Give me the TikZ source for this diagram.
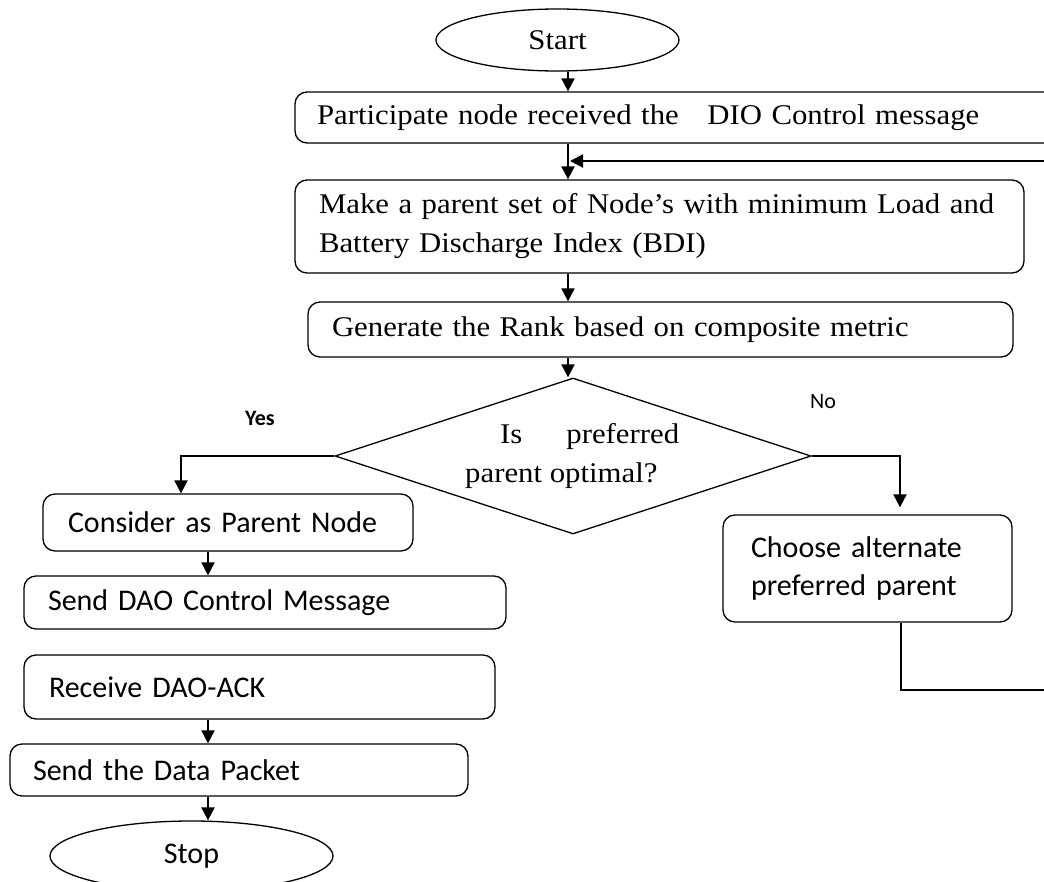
\documentclass[tikz,border=0pt]{standalone}
\usepackage{fontspec}
\setmainfont{Liberation Serif}[FakeStretch=1.08]
\newfontfamily\calfont{Carlito}
\usetikzlibrary{shapes.geometric,arrows.meta}
\newcommand\serifsz{\fontsize{28.5}{39}\selectfont}
\newcommand\calsz{\calfont\fontsize{30}{38}\selectfont}
\newcommand\labsz{\calfont\fontsize{22}{24}\selectfont}
\begin{document}
\begin{tikzpicture}[x=1pt,y=-1pt,
  box/.style={draw, line width=1.3pt, rounded corners=12pt, align=left, inner ysep=0pt},
  sbox/.style={box, font=\serifsz},
  cbox/.style={box, font=\calsz},
  arr/.style={draw, line width=2pt, -{Triangle[length=13pt,width=13pt]}},
  loopline/.style={draw, line width=1.3pt},
  term/.style={ellipse, draw, line width=1.3pt, inner sep=0pt}]
\useasboundingbox (0,0) rectangle (1044,881);
\clip (0,0) rectangle (1044,881);

% terminals
\node[term, font=\serifsz, minimum width=243pt, minimum height=62pt] (start) at (557.5,40) {Start};
\node[term, font=\calsz, minimum width=283pt, minimum height=70pt] (stop) at (191.5,856) {Stop};

% serif boxes
\node[sbox, text width=731pt, inner xsep=22pt, minimum height=51pt] (part) at (682.5,117.5)
  {Participate node received the \ \ DIO Control message};
\node[sbox, text width=681pt, inner xsep=24pt, minimum height=93pt] (make) at (659.5,226.5)
  {Make a parent set of Node’s with minimum Load and\\Battery Discharge Index (BDI)};
\node[sbox, text width=657pt, inner xsep=24pt, minimum height=55pt] (gen) at (660.5,329.5)
  {Generate the Rank based on composite metric};

% decision
\node[diamond, draw, line width=1.3pt, minimum width=476pt, minimum height=156pt, inner sep=0pt] (dec) at (573,456) {};
\node[font=\serifsz, align=left, anchor=west, inner sep=0pt] (dectext) at (465,456)
  {\hspace*{35pt}Is\hspace{44pt}preferred\\parent optimal?};

% calibri boxes
\node[cbox, text width=320pt, inner xsep=25pt, minimum height=57pt] (consider) at (228,522.5) {Consider as Parent Node};
\node[cbox, text width=434pt, inner xsep=24pt, minimum height=53pt] (senddao) at (265,602.5) {Send DAO Control Message};
\node[cbox, text width=421pt, inner xsep=25pt, minimum height=64pt] (receive) at (259.5,687) {Receive DAO-ACK};
\node[cbox, text width=412pt, inner xsep=23pt, minimum height=52pt] (sendpkt) at (239,770) {Send the Data Packet};
\node[cbox, text width=233pt, inner xsep=28pt, minimum height=107pt] (choose) at (867.5,568.5) {Choose alternate\\preferred parent};

% labels
\node[font=\labsz\bfseries] (yes) at (260,418) {Yes};
\node[font=\labsz] (no) at (823,402) {No};

% columns and loop coordinates
\coordinate (colA) at (568,0);
\coordinate (colB) at (208,0);
\coordinate (colY) at (181,0);
\coordinate (colN) at (900,0);
\coordinate (fb) at (570,161);
\coordinate (lb) at (901,690);
\coordinate (rb) at (1070,690);
\coordinate (rt) at (1070,161);

% connectors
\draw[arr] (start.south -| colA) -- (part.north -| colA);
\draw[arr] (part.south -| colA) -- (make.north -| colA);
\draw[arr] (make.south -| colA) -- (gen.north -| colA);
\draw[arr] (gen.south -| colA) -- (dec.north -| colA);
\draw[arr] (dec.west) -| (consider.north -| colY);
\draw[arr, shorten >=7pt] (dec.east) -| (choose.north -| colN);
\draw[arr] (consider.south -| colB) -- (senddao.north -| colB);
\draw[arr] (receive.south -| colB) -- (sendpkt.north -| colB);
\draw[arr] (sendpkt.south -| colB) -- (stop.north -| colB);
\draw[loopline] (choose.south -| lb) -- (lb) -- (rb) -- (rt);
\draw[arr] (rt) -- (fb);
\end{tikzpicture}
\end{document}
